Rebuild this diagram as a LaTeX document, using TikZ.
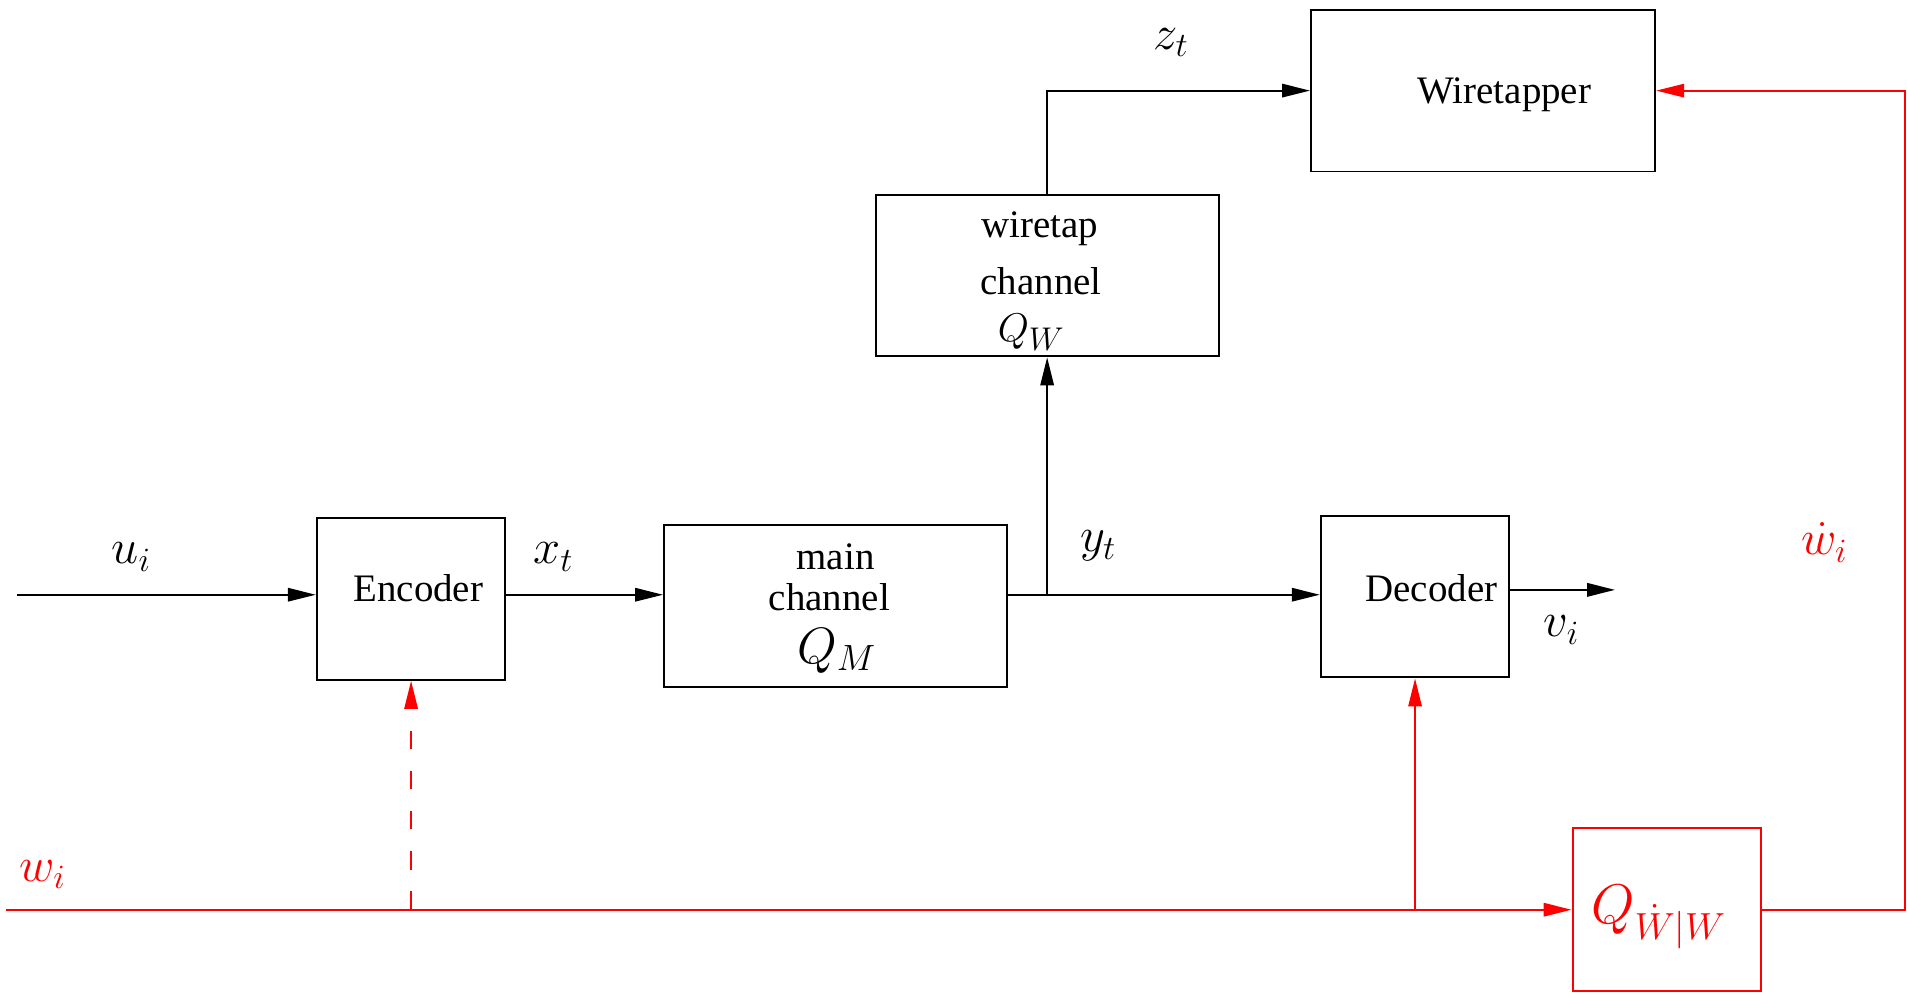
\RequirePackage{fix-cm}
\documentclass[tikz,border=0pt]{standalone}
\usepackage{fontspec}
\setmainfont{Liberation Serif}
\usetikzlibrary{arrows.meta}

% subscript set at a chosen size
\newcommand{\sizedsub}[2]{\mbox{\fontsize{#1}{#1}\selectfont$#2$}}

\begin{document}
\begin{tikzpicture}[x=0.5pt, y=-0.5pt,
  blk/.style={draw, line width=0.8pt, inner sep=0pt, minimum height=66.5pt},
  narrowblk/.style={blk, minimum width=77.5pt},
  wideblk/.style={blk, minimum width=141pt},
  lbl/.style={inner sep=0pt, font=\fontsize{16}{19}\selectfont},
  sym/.style={inner sep=0pt, font=\fontsize{20}{23}\selectfont},
  wire/.style={line width=0.8pt},
  arr/.style={wire, -{Triangle[length=11.5pt, width=5.5pt]}},
  side/.style={red}
]
\useasboundingbox (0,0) rectangle (1568,816);

% blocks
\node[narrowblk] (enc) at (338,492.5) {};
\node[wideblk]   (main) at (687,498.5) {};
\node[wideblk]   (wt)  at (861,226.5) {};
\node[wideblk, minimum width=141.5pt] (wtp) at (1219.5,74.5) {};
\node[narrowblk] (dec) at (1163.5,490.5) {};
\node[narrowblk, draw=red, minimum height=67pt] (q) at (1370.5,748) {};

% block texts
\node[lbl] (tenc) at (344,484) {Encoder};
\node[lbl] (tmain1) at (687,458) {main};
\node[lbl] (tmain2) at (682,491) {channel};
\node[inner sep=0pt] (tmain3) at (688,535) {\fontsize{21}{25}\selectfont$Q_{\sizedsub{15}{M}}$};
\node[lbl] (twt1) at (855,188) {wiretap};
\node[lbl] (twt2) at (856,231) {channel};
\node[inner sep=0pt] (twt3) at (848,273) {\fontsize{16.5}{19}\selectfont$Q_{\sizedsub{13.5}{W}}$};
\node[lbl] (twtp) at (1237,78) {Wiretapper};
\node[lbl] (tdec) at (1177,484) {Decoder};
\node[inner sep=0pt, red] (tq) at (1364,754) {\fontsize{23}{27}\selectfont$Q_{\sizedsub{15.5}{\dot W|W}}$};

% signal labels
\node[sym] (lu) at (108,458) {$u_i$};
\node[sym] (lx) at (455,458) {$x_t$};
\node[sym] (ly) at (903,449) {$y_t$};
\node[sym] (lz) at (963,35) {$z_t$};
\node[sym] (lv) at (1284,518) {$v_i$};
\node[sym, red] (lw) at (35,719) {$w_i$};
\node[sym, red] (lwd) at (1500,446) {$\dot w_i$};

% free ends
\coordinate (in) at (14,489);
\coordinate (out) at (1328,485);
\coordinate (win) at (5,748);
\coordinate (rt) at (1566,0);

% main path
\draw[arr] (in) -- (in -| enc.west);
\draw[arr] (enc.east |- in) -- (main.west |- in);
\draw[arr] (main.east |- in) -- (dec.west |- in);
\draw[arr] (wt.south |- in) -- (wt.south);
\draw[arr] (wt.north) |- (wtp.west);
\draw[arr] (dec.east |- out) -- (out);

% key / side information
\draw[arr, side] (win) -- (q.west);
\draw[arr, side, dash pattern=on 7.5pt off 9pt] (enc.south |- win) -- (enc.south);
\draw[arr, side] (dec.south |- win) -- (dec.south);
\draw[arr, side] (q.east) -- (q.east -| rt) -- (rt |- wtp.east) -- (wtp.east);
\end{tikzpicture}
\end{document}
